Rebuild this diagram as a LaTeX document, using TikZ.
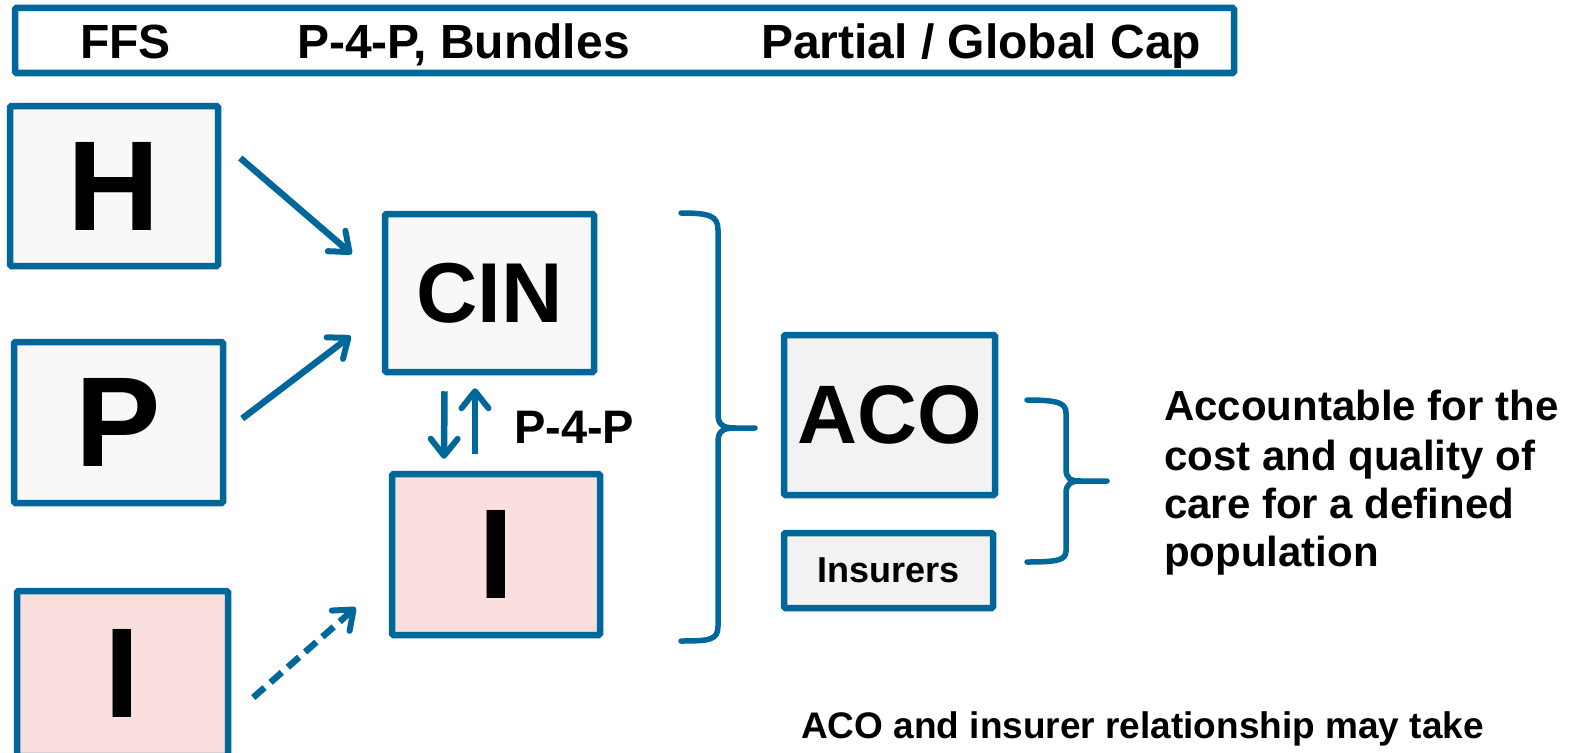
\documentclass[tikz,border=0pt]{standalone}
\usepackage{fontspec}
\setmainfont{Liberation Sans}
\usetikzlibrary{arrows.meta}
\definecolor{edge}{RGB}{0,103,154}
\definecolor{paper}{RGB}{249,248,246}
\definecolor{rose}{RGB}{251,223,223}
\definecolor{mist}{RGB}{242,242,242}
\newcommand{\fs}[1]{\fontsize{#1}{#1}\selectfont\bfseries}
\begin{document}
\begin{tikzpicture}[x=1pt,y=-1pt,
  box/.style={draw=edge,line width=6.5pt,rounded corners=1.5pt,inner sep=0pt,text=black},
  label/.style={inner sep=0pt,anchor=base west,text=black},
  arr/.style={draw=edge,line width=6.5pt,-{Straight Barb[length=17pt,width=27pt,line width=6pt,round]}},
  brace/.style={draw=edge,line width=5.5pt,line cap=round}]
\useasboundingbox (0,0) rectangle (1576,752);
\fill[white] (0,0) rectangle (1576,752);

% header strip
\node[box,fill=white,minimum width=1219,minimum height=65] (head) at (624.5,40.5) {};
\node[label] (ffs) at (80,59) {\fs{48}FFS};
\node[label] (bund) at (297,59) {\fs{48}P-4-P, Bundles};
\node[label] (cap) at (761,59) {\fs{48}Partial / Global Cap};

% provider boxes
\node[box,fill=paper,minimum width=208,minimum height=160] (H) at (114,186) {\fs{128}H};
\node[box,fill=paper,minimum width=209,minimum height=161] (P) at (118.5,422.5) {\fs{128}P};
\node[box,fill=rose,minimum width=211,minimum height=165] (I1) at (122.5,673.5) {\fs{128}I};

\node[box,fill=paper,minimum width=209,minimum height=158] (CIN) at (489.5,293) {\fs{85}CIN};
\node[box,fill=rose,minimum width=208,minimum height=161] (I2) at (496,554.5) {\fs{128}I};

\node[box,fill=mist,minimum width=211,minimum height=160] (ACO) at (889.5,415) {\fs{83}ACO};
\node[box,fill=mist,minimum width=209,minimum height=75] (ins) at (888.5,570.5) {\fs{36}Insurers};

% connectors
\draw[arr] ([shift={(19,-28)}]H.east) -- ([shift={(-30,-39)}]CIN.west);
\draw[arr] ([shift={(16,-4)}]P.east) -- ([shift={(-31,43)}]CIN.west);
\draw[arr,dash pattern=on 15pt off 8pt] ([shift={(22,24)}]I1.east) -- ([shift={(-33,53)}]I2.west);
\draw[arr] ([shift={(-45,16)}]CIN.south) -- ([shift={(-52,-12)}]I2.north);
\draw[arr] ([shift={(-21,-17)}]I2.north) -- ([shift={(-14.5,13)}]CIN.south);
\node[label] (p4p) at (514,443) {\fs{47}P-4-P};

% large brace
\draw[brace] (681,213) .. controls (710,213) and (718,216) .. (718,230) -- (718,414)
  .. controls (718,424) and (722,428) .. (735,428) -- (755,428);
\draw[brace] (735,428) .. controls (722,428) and (718,432) .. (718,442) -- (718,626)
  .. controls (718,640) and (710,641) .. (681,641);

% small brace
\draw[brace] (1027,400) .. controls (1058,400) and (1066,403) .. (1066,413) -- (1066,469)
  .. controls (1066,478) and (1070,481) .. (1080,481) -- (1107,481);
\draw[brace] (1080,481) .. controls (1070,481) and (1066,485) .. (1066,493) -- (1066,551)
  .. controls (1066,560) and (1058,562) .. (1027,562);

% description
\node[label] (d1) at (1164,420) {\fs{42}Accountable for the};
\node[label] (d2) at (1164,470) {\fs{42}cost and quality of};
\node[label] (d3) at (1164,518) {\fs{42}care for a defined};
\node[label] (d4) at (1164,566) {\fs{42}population};

\node[label] (note) at (801,738) {\fs{37}ACO and insurer relationship may take};
\end{tikzpicture}
\end{document}
